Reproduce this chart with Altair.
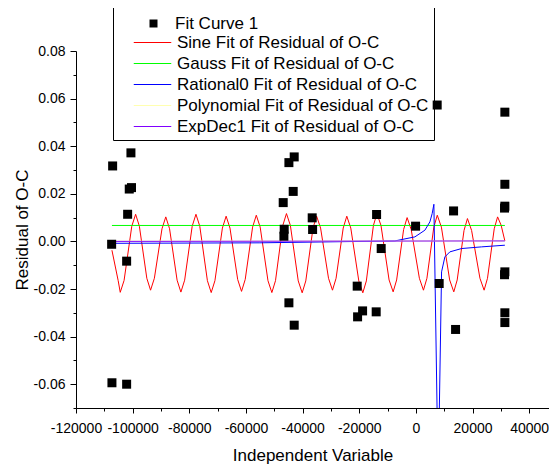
import altair as alt
import pandas as pd

# ---- observed residuals (Fit Curve 1) ----
obs_x = [-100605, -107066, -101200, -100400, -101770, -107418, -102123, -107312, -102123,
         -42960, -44831, -43313, -46843, -36606, -46490, -36465, -46596, -13873, -12249,
         -20721, -44831, -18815, -20580, -14014, -42960,
         7520, 31417, 31417, 31417, 31300, 13308, -106, 31417, 31300, 8225, 31417, 31417, 14014]
obs_y = [0.0372, 0.0317, 0.0220, 0.0226, 0.0114, -0.0012, -0.0083, -0.0594, -0.0600,
         0.0355, 0.0331, 0.0210, 0.0163, 0.0099, 0.0051, 0.0050, 0.0022, 0.0113, -0.0030,
         -0.0188, -0.0258, -0.0292, -0.0317, -0.0296, -0.0352,
         0.0573, 0.0543, 0.0240, 0.0148, 0.0140, 0.0128, 0.0064, -0.0128, -0.0140, -0.0177, -0.0300, -0.0341, -0.0370]

# ---- fitted curves (vertices) ----
sine_x = [-107312, -105110, -104382, -103023, -100305, -98946, -97629, -94994, -93676, -92331,
          -89641, -88296, -86965, -84302, -82970, -81639, -78977, -77646, -76301, -73610,
          -72264, -70947, -68313, -66996, -65637, -62918, -61558, -60255, -57649, -56346,
          -54973, -52226, -50852, -49563, -46985, -45696, -44309, -41534, -40146, -38871,
          -36321, -35046, -33645, -30842, -29440, -28179, -25657, -24396, -22981, -20150,
          -18734, -17487, -14993, -13746, -12317, -9458, -8028, -6795, -4329, -3096,
          -1653, 1235, 2678, 3897, 6335, 7554, 9012, 11927, 13384, 14589,
          17000, 18204, 19676, 22619, 24090, 25281, 27663, 28854, 30100, 31417]
sine_y = [-0.0037, -0.0165, -0.0214, -0.0164, 0.0064, 0.0114, 0.0064, -0.0155, -0.0205, -0.0155,
          0.0053, 0.0103, 0.0053, -0.0163, -0.0213, -0.0163, 0.0064, 0.0114, 0.0064, -0.0165,
          -0.0215, -0.0165, 0.0056, 0.0106, 0.0056, -0.0160, -0.0210, -0.0160, 0.0060, 0.0110,
          0.0060, -0.0165, -0.0215, -0.0165, 0.0067, 0.0117, 0.0067, -0.0166, -0.0216, -0.0166,
          0.0056, 0.0106, 0.0056, -0.0155, -0.0205, -0.0155, 0.0056, 0.0106, 0.0056, -0.0166,
          -0.0216, -0.0166, 0.0067, 0.0117, 0.0067, -0.0162, -0.0212, -0.0162, 0.0050, 0.0100,
          0.0050, -0.0155, -0.0205, -0.0155, 0.0060, 0.0110, 0.0060, -0.0162, -0.0212, -0.0162,
          0.0046, 0.0096, 0.0046, -0.0155, -0.0205, -0.0155, 0.0053, 0.0103, 0.0068, 0.0002]
gauss_x = [-107312, 31417]
gauss_y = [0.0067, 0.0067]
rat_x = [-107312, -55068, -7413, -353, 3177, 4942, 5754, 6354, 7872, 9072, 10237, 12002, 16132, 23192, 31417]
rat_y = [-0.0008, -0.0006, 0.0002, 0.0019, 0.0047, 0.0082, 0.0117, 0.0156, -0.1000, -0.0128, -0.0065,
         -0.0044, -0.0030, -0.0023, -0.0016]
poly_x = [-107312, 31417]
poly_y = [0.0001, 0.0002]
exp_x = [-107312, 31417]
exp_y = [0.0000, 0.0002]

series_names = ["Sine Fit of Residual of O-C", "Gauss Fit of Residual of O-C",
                "Rational0 Fit of Residual of O-C", "Polynomial Fit of Residual of O-C",
                "ExpDec1 Fit of Residual of O-C"]
series_colors = ["#ff0000", "#00ff00", "#0000ff", "#ffffb0", "#8000ff"]
point_label = "Fit Curve 1"

x_ticks = list(range(-120000, 40001, 10000))
y_ticks = [-0.07, -0.06, -0.05, -0.04, -0.03, -0.02, -0.01, 0.0,
           0.01, 0.02, 0.03, 0.04, 0.05, 0.06, 0.07, 0.08]

rows = []
for name, xs, ys in zip(series_names,
                        [sine_x, gauss_x, rat_x, poly_x, exp_x],
                        [sine_y, gauss_y, rat_y, poly_y, exp_y]):
    for i, (a, b) in enumerate(zip(xs, ys)):
        rows.append({"x": a, "y": b, "series": name, "i": i})
lines_df = pd.DataFrame(rows)
pts_df = pd.DataFrame({"x": obs_x, "y": obs_y, "label": point_label})

FONT = "Liberation Sans"

y_major_test = "abs(round(datum.value*100)) % 2 === 0"
y_label_expr = (y_major_test + " ? "
                "((datum.value < -0.001 ? '-' : '') + "
                "(abs(datum.value) < 0.001 ? '0.00' : '0.0' + abs(round(datum.value*100)))) : ''")

x_axis = alt.Axis(values=x_ticks, title="Independent Variable",
                  labelExpr="datum.value % 20000 === 0 ? '' + datum.value : ''",
                  tickSize={"condition": {"test": "datum.value % 20000 === 0", "value": 5}, "value": 3},
                  grid=False, domainColor="black", tickColor="black", labelColor="black",
                  titleColor="black", labelFont=FONT, titleFont=FONT, labelFontSize=14,
                  titleFontSize=17, titleFontWeight="normal", labelPadding=8, titlePadding=12,
                  labelFlush=False, labelOverlap=False)
y_axis = alt.Axis(values=y_ticks, title="Residual of O-C",
                  labelExpr=y_label_expr,
                  tickSize={"condition": {"test": y_major_test, "value": 6}, "value": 3},
                  grid=False, domainColor="black", tickColor="black", labelColor="black",
                  titleColor="black", labelFont=FONT, titleFont=FONT, labelFontSize=14,
                  titleFontSize=17, titleFontWeight="normal", labelPadding=5, titlePadding=2,
                  labelFlush=False, labelOverlap=False)
x_scale = alt.Scale(domain=[-120000, 47000], nice=False, zero=False)
y_scale = alt.Scale(domain=[-0.07, 0.08], nice=False, zero=False)

lines = alt.Chart(lines_df).mark_line(strokeWidth=1, clip=True).encode(
    x=alt.X("x:Q", scale=x_scale, axis=x_axis),
    y=alt.Y("y:Q", scale=y_scale, axis=y_axis),
    color=alt.Color("series:N", scale=alt.Scale(domain=series_names, range=series_colors),
                    legend=alt.Legend(orient="none", legendX=37, legendY=-51, title=" ",
                                      titleFontSize=17, titlePadding=12, titleFont=FONT,
                                      symbolType="M-2.5,0L2.5,0", symbolSize=225, symbolStrokeWidth=1,
                                      labelFont=FONT, labelFontSize=17, labelColor="black",
                                      labelLimit=400, labelOffset=16, strokeColor="black",
                                      padding=5, symbolOffset=26, rowPadding=3)),
    detail="series:N",
    order="i:Q",
)

points = alt.Chart(pts_df).mark_point(filled=True, color="black", size=81, opacity=1).encode(
    x=alt.X("x:Q", scale=x_scale, axis=x_axis),
    y=alt.Y("y:Q", scale=y_scale, axis=y_axis),
    shape=alt.Shape("label:N", scale=alt.Scale(range=["square"]),
                    legend=alt.Legend(orient="none", legendX=69, legendY=-36, title=None,
                                      symbolSize=64, labelFont=FONT, labelFontSize=17,
                                      labelColor="black", labelLimit=400, labelOffset=13,
                                      padding=0, symbolOffset=0)),
)

chart = alt.layer(lines, points).properties(
    width=473, height=357,
    autosize=alt.AutoSizeParams(type="none"),
    padding={"left": 68, "top": 43, "right": 0, "bottom": 57},
    background="white",
).configure_view(stroke=None)

chart.save("out.html", embed_options={"renderer": "svg", "actions": False})
